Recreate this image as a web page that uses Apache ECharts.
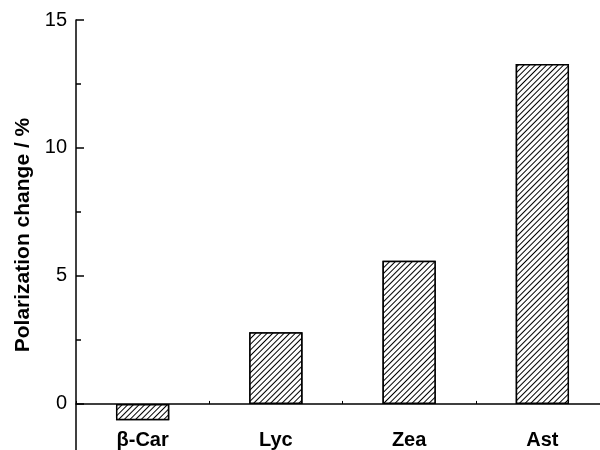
<!DOCTYPE html>
<html>
<head>
<meta charset="utf-8">
<script src="https://cdn.jsdelivr.net/npm/echarts@6/dist/echarts.min.js"></script>
<style>html,body{margin:0;padding:0;background:#fff}#c{width:600px;height:450px}</style>
</head>
<body>
<div id="c"></div>
<script>
var categories = ['β-Car', 'Lyc', 'Zea', 'Ast'];
var values = [-0.64, 2.80, 5.59, 13.28];
var majorTicks = [0, 5, 10, 15];
var minorTicks = [2.5, 7.5, 12.5];
var yTitle = 'Polarization change / %';

var FONT = 'Liberation Sans, Arial, Helvetica, sans-serif';
var chart = echarts.init(document.getElementById('c'), null, {renderer: 'canvas'});
var yBase = {
  type: 'value', min: -1.8, max: 15,
  splitLine: {show: false}
};
chart.setOption({
  animation: false,
  grid: {left: 76, top: 20, width: 533, height: 430, containLabel: false, outerBoundsMode: 'none'},
  xAxis: [{
    type: 'category', data: categories,
    axisLine: {onZero: true, lineStyle: {color: '#000', width: 1.5}},
    axisTick: {show: true, inside: true, length: 3, lineStyle: {color: '#000', width: 1}},
    axisLabel: {show: false}
  }, {
    type: 'category', data: categories, position: 'bottom', offset: -46,
    axisLine: {show: false, onZero: false},
    axisTick: {show: false},
    axisLabel: {color: '#000', fontFamily: FONT, fontSize: 20, fontWeight: 'bold', margin: 26}
  }],
  yAxis: [
    Object.assign({}, yBase, {
      name: yTitle, nameLocation: 'middle', nameGap: 37,
      nameTextStyle: {color: '#000', fontFamily: FONT, fontSize: 21, fontWeight: 'bold'},
      axisLine: {show: true, onZero: false, lineStyle: {color: '#000', width: 1.5}},
      axisTick: {show: true, inside: true, length: 8, customValues: majorTicks, lineStyle: {color: '#000', width: 1.5}},
      axisLabel: {show: true, color: '#000', fontFamily: FONT, fontSize: 20, margin: 9, customValues: majorTicks}
    }),
    Object.assign({}, yBase, {
      position: 'left',
      axisLine: {show: false, onZero: false},
      axisTick: {show: true, inside: true, length: 5, customValues: minorTicks, lineStyle: {color: '#000', width: 1.5}},
      axisLabel: {show: false}
    })
  ],
  series: [{
    type: 'bar', data: values, barWidth: '40%', yAxisIndex: 0, xAxisIndex: 0,
    itemStyle: {
      color: '#fff', borderColor: '#000', borderWidth: 1.5,
      decal: {symbol: 'rect', symbolSize: 1, dashArrayX: [1, 0], dashArrayY: [1, 3], rotation: -Math.PI / 4, color: '#000', backgroundColor: '#fff'}
    }
  }]
});
</script>
</body>
</html>
